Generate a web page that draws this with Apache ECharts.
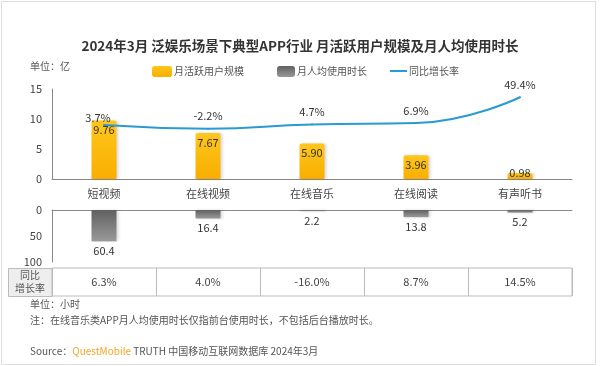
<!DOCTYPE html>
<html><head><meta charset="utf-8">
<script src="https://cdn.jsdelivr.net/npm/echarts@6/dist/echarts.min.js"></script>
<style>html,body{margin:0;padding:0;background:#fff}#c{width:600px;height:366px}</style>
</head><body><div id="c"></div>
<script>
var categories = ['短视频', '在线视频', '在线音乐', '在线阅读', '有声听书'];
var mau = [9.76, 7.67, 5.90, 3.96, 0.98];
var mauGrowth = [3.7, -2.2, 4.7, 6.9, 49.4];
var duration = [60.4, 16.4, 2.2, 13.8, 5.2];
var durationGrowth = [6.3, 4.0, -16.0, 8.7, 14.5];
var seriesNames = ['月活跃用户规模', '月人均使用时长', '同比增长率'];
var titleText = '2024年3月 泛娱乐场景下典型APP行业 月活跃用户规模及月人均使用时长';
var unitTop = '单位：亿';
var unitBottom = '单位：小时';
var noteText = '注：在线音乐类APP月人均使用时长仅指前台使用时长，不包括后台播放时长。';
var tableHeader = '同比\n增长率';

var FONT = '"Noto Sans CJK SC", "Microsoft YaHei", sans-serif';
var chart = echarts.init(document.getElementById('c'));

function fmtPct(v) { return v.toFixed(1) + '%'; }

var mauData = mau.map(function (v, i) {
  var d = { value: v };
  if (v < 2) d.label = { position: 'top', distance: -5 };
  return d;
});
var growthData = mauGrowth.map(function (v, i) {
  var d = { value: v };
  if (i === 0) d.label = { offset: [-6, 5] };
  return d;
});

var option = {
  animation: false,
  textStyle: { fontFamily: FONT },
  title: {
    text: titleText, left: 'center', top: 34,
    textStyle: { fontSize: 13.5, fontWeight: 'bold', color: '#333', fontFamily: FONT }
  },
  legend: [
    { data: [seriesNames[0]], left: 147, top: 61, itemWidth: 20, itemHeight: 11, itemGap: 4,
      textStyle: { fontSize: 10, color: '#555', padding: [0, 0, 0, -3] } },
    { data: [seriesNames[1]], left: 272, top: 61, itemWidth: 18, itemHeight: 11,
      textStyle: { fontSize: 10, color: '#555', padding: [0, 0, 0, -3] } },
    { data: [{ name: seriesNames[2], icon: 'rect' }], left: 385, top: 61, itemWidth: 17, itemHeight: 2,
      textStyle: { fontSize: 10, color: '#555', padding: [0, 0, 0, -3] } }
  ],
  grid: [
    { left: 52, right: 28, top: 89, height: 90 },
    { left: 52, right: 28, top: 210, height: 52 },
    { left: 52, right: 28, top: 268, height: 28, show: true, borderColor: '#bbb', borderWidth: 1, backgroundColor: '#fff' }
  ],
  xAxis: [
    { type: 'category', gridIndex: 0, data: categories,
      axisLine: { lineStyle: { color: '#888' } }, axisTick: { show: false },
      axisLabel: { fontSize: 11, color: '#444', margin: 9 } },
    { type: 'category', gridIndex: 1, data: categories, position: 'top',
      axisLine: { lineStyle: { color: '#888' } }, axisTick: { show: false },
      axisLabel: { show: false } },
    { type: 'category', gridIndex: 2, data: durationGrowth.map(fmtPct),
      axisLine: { show: false }, axisTick: { show: false },
      splitLine: { show: true, interval: 0, lineStyle: { color: '#bbb' } },
      axisLabel: { fontSize: 11, color: '#444', margin: -20, interval: 0 } }
  ],
  yAxis: [
    { type: 'value', gridIndex: 0, min: 0, max: 15, interval: 5,
      axisLine: { show: true, lineStyle: { color: '#888' } }, axisTick: { show: false },
      splitLine: { show: false }, axisLabel: { fontSize: 11, color: '#444', margin: 10 } },
    { type: 'value', gridIndex: 0, min: -85, max: 63, show: false, splitLine: { show: false } },
    { type: 'value', gridIndex: 1, min: 0, max: 100, interval: 50, inverse: true,
      axisLine: { show: true, lineStyle: { color: '#888' } }, axisTick: { show: false },
      splitLine: { show: false }, axisLabel: { fontSize: 11, color: '#444', margin: 10 } },
    { type: 'value', gridIndex: 2, show: false, splitLine: { show: false } }
  ],
  series: [
    { name: seriesNames[0], type: 'bar', xAxisIndex: 0, yAxisIndex: 0, data: mauData, barWidth: 25,
      itemStyle: {
        color: new echarts.graphic.LinearGradient(0, 0, 0, 1, [
          { offset: 0, color: '#FFC61C' }, { offset: 1, color: '#F8AE00' }]),
        borderRadius: [2, 2, 0, 0],
        shadowColor: 'rgba(0,0,0,0.15)', shadowBlur: 3, shadowOffsetX: 2, shadowOffsetY: 0
      },
      label: { show: true, position: 'insideTop', distance: 4, fontSize: 11, color: '#333',
        formatter: function (p) { return p.value.toFixed(2); } }
    },
    { name: seriesNames[1], type: 'bar', xAxisIndex: 1, yAxisIndex: 2, data: duration, barWidth: 25,
      itemStyle: {
        color: new echarts.graphic.LinearGradient(0, 0, 0, 1, [
          { offset: 0, color: '#606060' }, { offset: 1, color: '#9a9a9a' }]),
        shadowColor: 'rgba(0,0,0,0.15)', shadowBlur: 3, shadowOffsetX: 2, shadowOffsetY: 0
      },
      label: { show: true, position: 'bottom', distance: 4, fontSize: 11, color: '#333',
        formatter: function (p) { return p.value.toFixed(1); } }
    },
    { name: seriesNames[2], type: 'line', xAxisIndex: 0, yAxisIndex: 1, data: growthData,
      smooth: true, symbol: 'circle', symbolSize: 2, showSymbol: true, z: 5,
      lineStyle: { color: '#2A9AD3', width: 2 }, itemStyle: { color: '#2A9AD3' },
      label: { show: true, position: 'top', distance: 6, fontSize: 11, color: '#333',
        formatter: function (p) { return fmtPct(p.value); } }
    },
    { type: 'bar', xAxisIndex: 2, yAxisIndex: 3, data: [], silent: true }
  ],
  graphic: [
    { type: 'rect', z: -10, shape: { x: 1.5, y: 1.5, width: 594, height: 363 },
      style: { fill: 'none', stroke: '#ddd', lineWidth: 1 } },
    { type: 'text', left: 30, top: 61, style: { text: unitTop, fontSize: 10, fill: '#555', fontFamily: FONT } },
    { type: 'rect', z: 10, shape: { x: 8.5, y: 268.5, width: 43.5, height: 28 },
      style: { fill: '#eeeeee', stroke: '#bbb', lineWidth: 1 } },
    { type: 'text', z: 11, x: 30, y: 282,
      style: { text: tableHeader, fontSize: 10, fill: '#555', align: 'center', verticalAlign: 'middle', lineHeight: 13, fontFamily: FONT } },
    { type: 'text', left: 30, top: 299, style: { text: unitBottom, fontSize: 10, fill: '#555', fontFamily: FONT } },
    { type: 'text', left: 30, top: 315, style: { text: noteText, fontSize: 10, fill: '#555', fontFamily: FONT } },
    { type: 'text', left: 30, top: 346, style: {
        text: '{a|Source：}{b|QuestMobile}{a| TRUTH 中国移动互联网数据库 2024年3月}',
        rich: { a: { fontSize: 10, fill: '#555', fontFamily: FONT }, b: { fontSize: 10, fill: '#F5A623', fontFamily: FONT } }
      } }
  ]
};
chart.setOption(option);
</script></body></html>
